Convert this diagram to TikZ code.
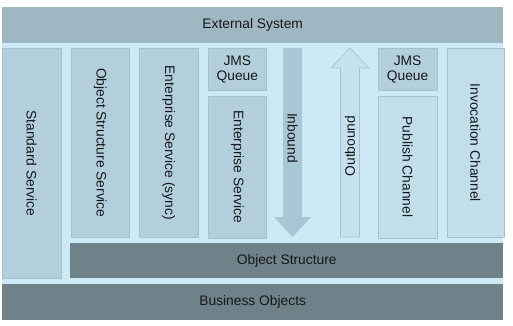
\documentclass[tikz,border=0pt]{standalone}
\usepackage{fontspec}
\setmainfont{Liberation Sans}
\usepackage{tikz}
\usetikzlibrary{positioning}

\definecolor{bgblue}{HTML}{CDE9F5}
\definecolor{boxblue}{HTML}{B4CFDC}
\definecolor{boxedge}{HTML}{A6C1CE}
\definecolor{lightbox}{HTML}{C2DEEA}
\definecolor{extgray}{HTML}{9FB7C2}
\definecolor{darkbar}{HTML}{6F8189}
\definecolor{inblue}{HTML}{A9C6D4}
\definecolor{outblue}{HTML}{C6E2EE}
\definecolor{txt}{HTML}{16191B}

\begin{document}
\begin{tikzpicture}[x=1pt,y=-1pt,node distance=9.5pt,text=txt,
  font=\fontsize{13.8}{14.5}\selectfont,
  box node/.style={fill=boxblue,draw=boxedge,line width=0.6pt,minimum width=58.5pt,inner sep=0pt,align=center,anchor=north west},
  bar node/.style={minimum height=36pt,inner sep=0pt,anchor=north west},
  down text/.style={rotate=-90,inner sep=0pt},
  up text/.style={rotate=90,inner sep=0pt}]

  \useasboundingbox (0,0) rectangle (513,325);
  \fill[bgblue] (2,7) rectangle (503,320);

  \node[bar node,fill=extgray,minimum width=501pt] (ext) at (2,7) {External System};

  % left columns
  \node[box node,minimum height=230pt] (std) at (2,48) {};
  \node[box node,minimum height=189pt,right=of std.north east,anchor=north west] (oss) {};
  \node[box node,minimum height=189pt,right=of oss.north east,anchor=north west] (ess) {};
  \node[box node,minimum height=42pt,right=of ess.north east,anchor=north west] (jmsa) {JMS\\Queue};
  \node[box node,minimum height=142pt,below=5pt of jmsa.south west,anchor=north west] (es) {};

  \node[down text] (std text) at (std) {Standard Service};
  \node[down text] (oss text) at (oss) {Object Structure Service};
  \node[down text] (ess text) at (ess) {Enterprise Service (sync)};
  \node[down text] (es text) at (es) {Enterprise Service};

  % inbound / outbound
  \fill[inblue] (283,48) -- (302,48) -- (302,217) -- (311,217) -- (292.5,237)
    -- (274,217) -- (283,217) -- cycle;
  \node[down text] (inb) at (292.5,138) {Inbound};
  \filldraw[fill=outblue,draw=boxedge,line width=0.6pt] (350,48) -- (369,68)
    -- (359.5,68) -- (359.5,237) -- (340.5,237) -- (340.5,68) -- (331,68) -- cycle;
  \node[up text] (outb) at (350,146) {Outbound};

  % right columns
  \node[box node,minimum height=42pt] (jmsb) at (378,48) {JMS\\Queue};
  \node[box node,fill=lightbox,minimum height=142pt,below=5pt of jmsb.south west,anchor=north west] (pub) {};
  \node[box node,fill=lightbox,minimum width=57pt,minimum height=189pt,right=of jmsb.north east,anchor=north west] (inv) {};

  \node[down text] (pub text) at (pub) {Publish Channel};
  \node[down text] (inv text) at (inv) {Invocation Channel};

  \node[bar node,fill=darkbar,minimum width=433pt,minimum height=35pt] (os) at (70,243) {Object Structure};
  \node[bar node,fill=darkbar,minimum width=501pt] (bo) at (2,284) {Business Objects};

\end{tikzpicture}
\end{document}
